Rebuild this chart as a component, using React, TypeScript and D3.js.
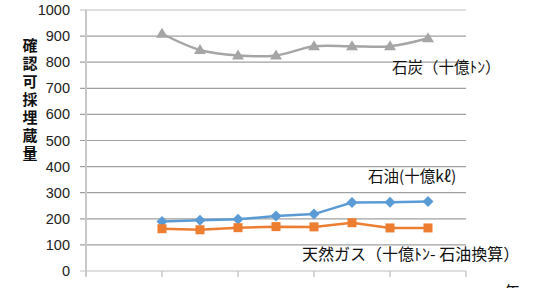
import React from "react";
import * as d3 from "d3";

const categories = ["c0", "c1", "c2", "c3", "c4", "c5", "c6", "c7", "c8", "c9", "c10"];
const dataCategories = ["c2", "c3", "c4", "c5", "c6", "c7", "c8", "c9"];
const coal = [909, 847, 826, 826, 861, 861, 861, 892];
const oil = [190, 194, 198, 211, 218, 262, 263, 266];
const gas = [162, 158, 166, 170, 169, 185, 165, 165];
const yTicks = [0, 100, 200, 300, 400, 500, 600, 700, 800, 900, 1000];
const yTitle = "確認可採埋蔵量";

const W = 552;
const H = 288;
const FONT = "'Liberation Sans', 'Noto Sans CJK JP', sans-serif";
const JFONT = "'Noto Sans CJK JP', 'Liberation Sans', sans-serif";

export default function App() {
  const x = d3.scalePoint<string>().domain(categories).range([86, 466]);
  const y = d3.scaleLinear().domain([0, 1000]).range([271, 10]);

  const mk = (vals: number[], curve: d3.CurveFactory) =>
    d3
      .line<number>()
      .x((_, i) => x(dataCategories[i]) as number)
      .y((d) => y(d))
      .curve(curve)(vals) as string;

  const xTickCats = categories.filter((_, i) => i % 2 === 0);

  return (
    <svg
      width={W}
      height={H}
      style={{ position: "absolute", left: 0, top: 0, background: "#fff" }}
    >
      {yTicks.map((t) => (
        <g key={t}>
          <line x1={80} x2={466} y1={y(t)} y2={y(t)} stroke={t === 0 || t === 1000 ? "#BFBFBF" : "#A0A0A0"} strokeWidth={1.2} />
          <text x={70} y={y(t)} dy="0.35em" textAnchor="end" fontFamily={FONT} fontSize={14.5} fill="#222">
            {t}
          </text>
        </g>
      ))}
      <line x1={86} x2={86} y1={10} y2={276} stroke="#C8C8C8" strokeWidth={2} />
      {xTickCats.map((c) => (
        <line key={c} x1={x(c)} x2={x(c)} y1={271} y2={277} stroke="#C8C8C8" strokeWidth={1.5} />
      ))}
      <text
        x={30}
        y={38}
        style={{ writingMode: "vertical-rl", letterSpacing: "3px" }}
        fontFamily={JFONT}
        fontWeight="bold"
        fontSize={15}
        fill="#111"
      >
        {yTitle}
      </text>
      <path d={mk(coal, d3.curveCatmullRom.alpha(0.5))} fill="none" stroke="#A5A5A5" strokeWidth={2.5} />
      {coal.map((v, i) => {
        const cx = x(dataCategories[i]) as number;
        const cy = y(v);
        return <path key={i} d={`M${cx},${cy - 6}L${cx + 6},${cy + 4}L${cx - 6},${cy + 4}Z`} fill="#A5A5A5" />;
      })}
      <path d={mk(oil, d3.curveLinear)} fill="none" stroke="#5B9BD5" strokeWidth={2.5} />
      {oil.map((v, i) => {
        const cx = x(dataCategories[i]) as number;
        const cy = y(v);
        return <path key={i} d={`M${cx},${cy - 5.5}L${cx + 5.5},${cy}L${cx},${cy + 5.5}L${cx - 5.5},${cy}Z`} fill="#5B9BD5" />;
      })}
      <path d={mk(gas, d3.curveLinear)} fill="none" stroke="#ED7D31" strokeWidth={2.5} />
      {gas.map((v, i) => {
        const cx = x(dataCategories[i]) as number;
        const cy = y(v);
        return <rect key={i} x={cx - 4.5} y={cy - 4.5} width={9} height={9} fill="#ED7D31" />;
      })}
      <text x={392} y={66} dominantBaseline="central" fontFamily={JFONT} fontSize={15.5} fill="#111">
        石炭（十億ﾄﾝ）
      </text>
      <text x={368} y={175} dominantBaseline="central" fontFamily={JFONT} fontSize={15.5} fill="#111">
        石油(十億kℓ)
      </text>
      <text x={302} y={253} dominantBaseline="central" fontFamily={JFONT} fontSize={16} fill="#111">
        天然ガス（十億ﾄﾝ- 石油換算）
      </text>
      <text x={504} y={291} dominantBaseline="central" fontFamily={JFONT} fontSize={16} fill="#111">
        年
      </text>
    </svg>
  );
}
